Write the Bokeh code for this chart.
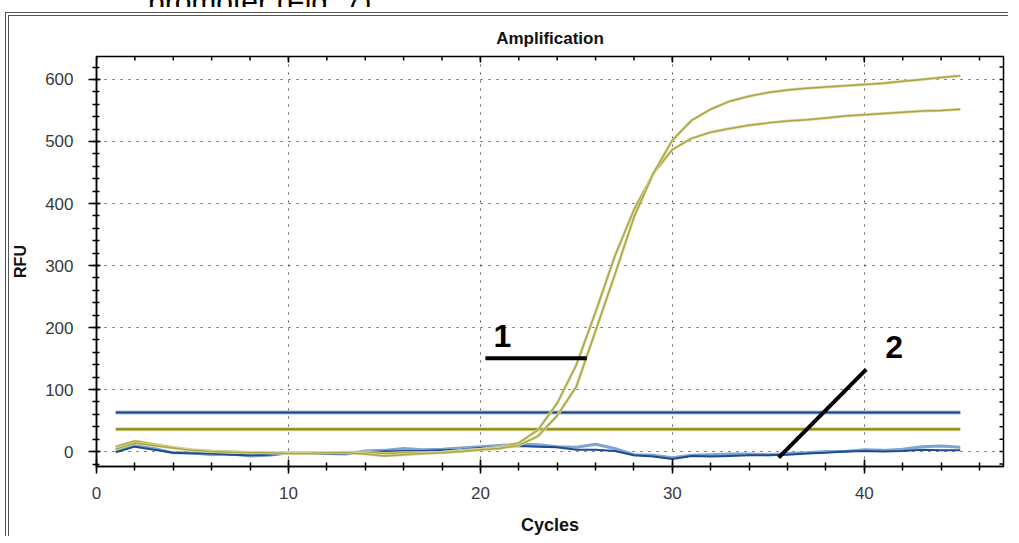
from bokeh.plotting import figure
from bokeh.models import Range1d, FixedTicker, Label, Div
from bokeh.layouts import column
from bokeh.embed import file_html
from bokeh.resources import INLINE

# ---------------- data ----------------
cycles = list(range(1, 46))

# amplified samples (curves "1")
sample_1a = [8, 17, 12, 7, 3, 1, 0, -1, -2, -2, -2, -2, -1, -1, -3, -2, -2, -1, 2, 4,
             7, 14, 35, 78, 140, 225, 315, 390, 448, 487, 505, 515, 521, 526, 530, 533,
             535, 538, 541, 543, 545, 547, 549, 550, 552]
sample_1b = [4, 14, 10, 6, 2, 0, -1, -2, -2, -3, -3, -2, -2, -4, -7, -5, -3, -2, 0, 3,
             5, 10, 25, 58, 105, 195, 285, 378, 448, 502, 534, 552, 565, 573, 579, 583,
             586, 588, 590, 592, 594, 597, 600, 603, 606]

# non-amplified samples (curves "2")
neg_2a = [-1, 8, 3, -2, -3, -3, -5, -6, -5, -3, -3, -4, -3, -1, 0, 1, 1, 2, 3, 6,
          7, 9, 8, 7, 3, 3, 1, -6, -8, -12, -7, -8, -7, -6, -6, -5, -3, -2, 0, 1,
          0, 1, 3, 2, 2]
neg_2b = [1, 10, 5, -2, -2, -5, -4, -7, -6, -2, -2, -3, -4, 1, 2, 5, 3, 4, 6, 8,
          10, 12, 11, 8, 7, 12, 5, -5, -6, -10, -6, -5, -4, -4, -5, -3, -2, 0, 0, 3,
          2, 4, 8, 9, 7]

threshold_blue = 63
threshold_olive = 36

x_ticks = [0, 10, 20, 30, 40]
x_minor = list(range(0, 48, 2))
y_ticks = [0, 100, 200, 300, 400, 500, 600]
y_minor = list(range(-20, 640, 20))

# annotation pointers (data coordinates)
ann1_x = [20.26, 25.54]
ann1_y = [150.5, 150.5]
ann2_x = [35.54, 40.1]
ann2_y = [-9.7, 132.7]

caption = "promoter (Fig. 7)."

FONT = "Liberation Sans"
X0, X1 = 0, 47.25
Y0, Y1 = -24, 637
FRAME_W, FRAME_H = 912, 410

p = figure(width=1003, height=524, output_backend="svg", toolbar_location=None,
           x_range=Range1d(X0, X1), y_range=Range1d(Y0, Y1),
           min_border_left=82, min_border_right=9, min_border_top=40, min_border_bottom=74,
           title="Amplification", x_axis_label="Cycles", y_axis_label="RFU")
p.margin = (5, 0, 0, 5)
p.styles = {"border-left": "4px double #555555", "border-top": "4px double #555555"}

p.background_fill_color = "white"
p.border_fill_color = "white"
p.outline_line_color = "black"
p.outline_line_width = 1.5

p.title.align = "center"
p.title.text_font = FONT
p.title.text_font_size = "17px"
p.title.text_font_style = "bold"
p.title.text_color = "#111111"
p.title.standoff = 18

p.xaxis.ticker = FixedTicker(ticks=x_ticks, minor_ticks=x_minor)
p.yaxis.ticker = FixedTicker(ticks=y_ticks, minor_ticks=y_minor)

for ax in (p.xaxis[0], p.yaxis[0]):
    ax.major_label_text_font = FONT
    ax.major_label_text_font_size = "17px"
    ax.major_label_text_color = "#3a3a3a"
    ax.axis_label_text_font = FONT
    ax.axis_label_text_font_style = "bold"
    ax.axis_label_text_color = "#111111"
    ax.axis_line_color = "black"
    ax.axis_line_width = 1.5
    ax.major_tick_line_color = "black"
    ax.minor_tick_line_color = "black"
    ax.major_tick_line_width = 1.5
    ax.minor_tick_line_width = 1.5

p.xaxis.axis_label_text_font_size = "18px"
p.yaxis.axis_label_text_font_size = "16px"

p.xaxis.major_tick_in = 7
p.xaxis.major_tick_out = 7
p.xaxis.minor_tick_in = 4
p.xaxis.minor_tick_out = 4
p.xaxis.major_label_standoff = 13
p.xaxis.axis_label_standoff = 13

p.yaxis.major_tick_in = 4
p.yaxis.major_tick_out = 8
p.yaxis.minor_tick_in = 3
p.yaxis.minor_tick_out = 4
p.yaxis.major_label_standoff = 15
p.yaxis.axis_label_standoff = 13

p.xgrid.grid_line_color = "#555555"
p.ygrid.grid_line_color = "#555555"
p.xgrid.grid_line_dash = "2 6"
p.ygrid.grid_line_dash = "2 6"
p.xgrid.grid_line_width = 1
p.ygrid.grid_line_width = 1

# inward ticks on the top and right edges of the frame
px_x = (X1 - X0) / FRAME_W
px_y = (Y1 - Y0) / FRAME_H
p.segment(x0=x_minor, x1=x_minor, y0=[Y1] * len(x_minor), y1=[Y1 - 4 * px_y] * len(x_minor),
          line_color="black", line_width=1.5)
p.segment(x0=x_ticks, x1=x_ticks, y0=[Y1] * len(x_ticks), y1=[Y1 - 6 * px_y] * len(x_ticks),
          line_color="black", line_width=1.5)
p.segment(x0=[X1] * len(y_minor), x1=[X1 - 4 * px_x] * len(y_minor), y0=y_minor, y1=y_minor,
          line_color="black", line_width=1.5)

# thresholds
thr_x = [cycles[0], cycles[-1]]
p.line(thr_x, [threshold_blue] * 2, line_color="#a8c0dc", line_width=4)
p.line(thr_x, [threshold_blue] * 2, line_color="#1c3f8a", line_width=2)
p.line(thr_x, [threshold_olive] * 2, line_color="#d8d8a0", line_width=4)
p.line(thr_x, [threshold_olive] * 2, line_color="#8c8a00", line_width=2)

# negative samples
p.line(cycles, neg_2b, line_color="#7fa4d0", line_width=3)
p.line(cycles, neg_2a, line_color="#1e4b8f", line_width=2)

# amplified samples
for s in (sample_1a, sample_1b):
    p.line(cycles, s, line_color="#dcdaa8", line_width=3)
    p.line(cycles, s, line_color="#aaa645", line_width=1.5)

# annotations
p.line(ann1_x, ann1_y, line_color="black", line_width=4)
p.line(ann2_x, ann2_y, line_color="black", line_width=4)
p.add_layout(Label(x=21.14, y=186, text="1", text_align="center", text_baseline="middle",
                   text_font=FONT, text_font_size="32px", text_font_style="bold",
                   text_color="black"))
p.add_layout(Label(x=41.55, y=168, text="2", text_align="center", text_baseline="middle",
                   text_font=FONT, text_font_size="32px", text_font_style="bold",
                   text_color="black"))

# caption line of the page above the screenshot (cut by the top edge)
cap = Div(text=('<div style="font-family: \'Liberation Sans\'; font-size: 30px; '
                'line-height: 30px; margin-top: -23px; margin-left: 148px; '
                'white-space: nowrap; color: black;">' + caption + '</div>'),
          width=1011, height=7, margin=0, styles={"overflow": "hidden"})

layout = column(cap, p, spacing=0)

open("out.html", "w").write(file_html(layout, INLINE))
